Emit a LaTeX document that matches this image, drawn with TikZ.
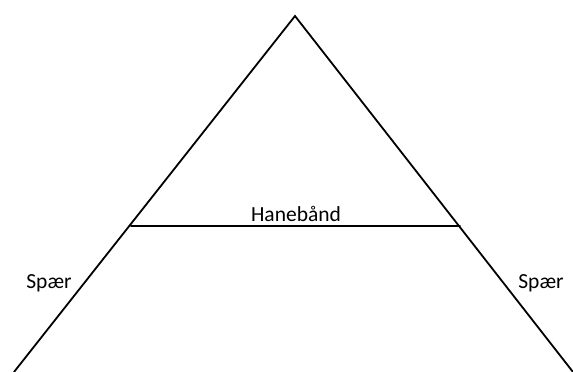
\documentclass[tikz,border=0pt]{standalone}
\usepackage{fontspec}
\setmainfont{Carlito}
\usetikzlibrary{positioning}

\begin{document}
\begin{tikzpicture}[x=1pt,y=-1pt,font=\fontsize{21.5}{25}\selectfont]
\tikzset{
rafter/.style={line width=1.8pt,color=black,line cap=round},
lbl/.style={inner sep=0pt,text=black}}
\useasboundingbox (0,0) rectangle (573,372);

\coordinate (top) at (295,16);
\coordinate (footL) at (14,372);
\coordinate (footR) at (573,372);
\coordinate (tieL) at (131,226);
\coordinate (tieR) at (460,226);

\draw[rafter] (footL) -- (top) -- (footR);
\draw[rafter] (tieL) -- (tieR);

\node[lbl] (tie) at (296,214) {Hanebånd};
\node[lbl] (sparL) at (49,283) {Spær};
\node[lbl] (sparR) at (541,283) {Spær};
\end{tikzpicture}
\end{document}
